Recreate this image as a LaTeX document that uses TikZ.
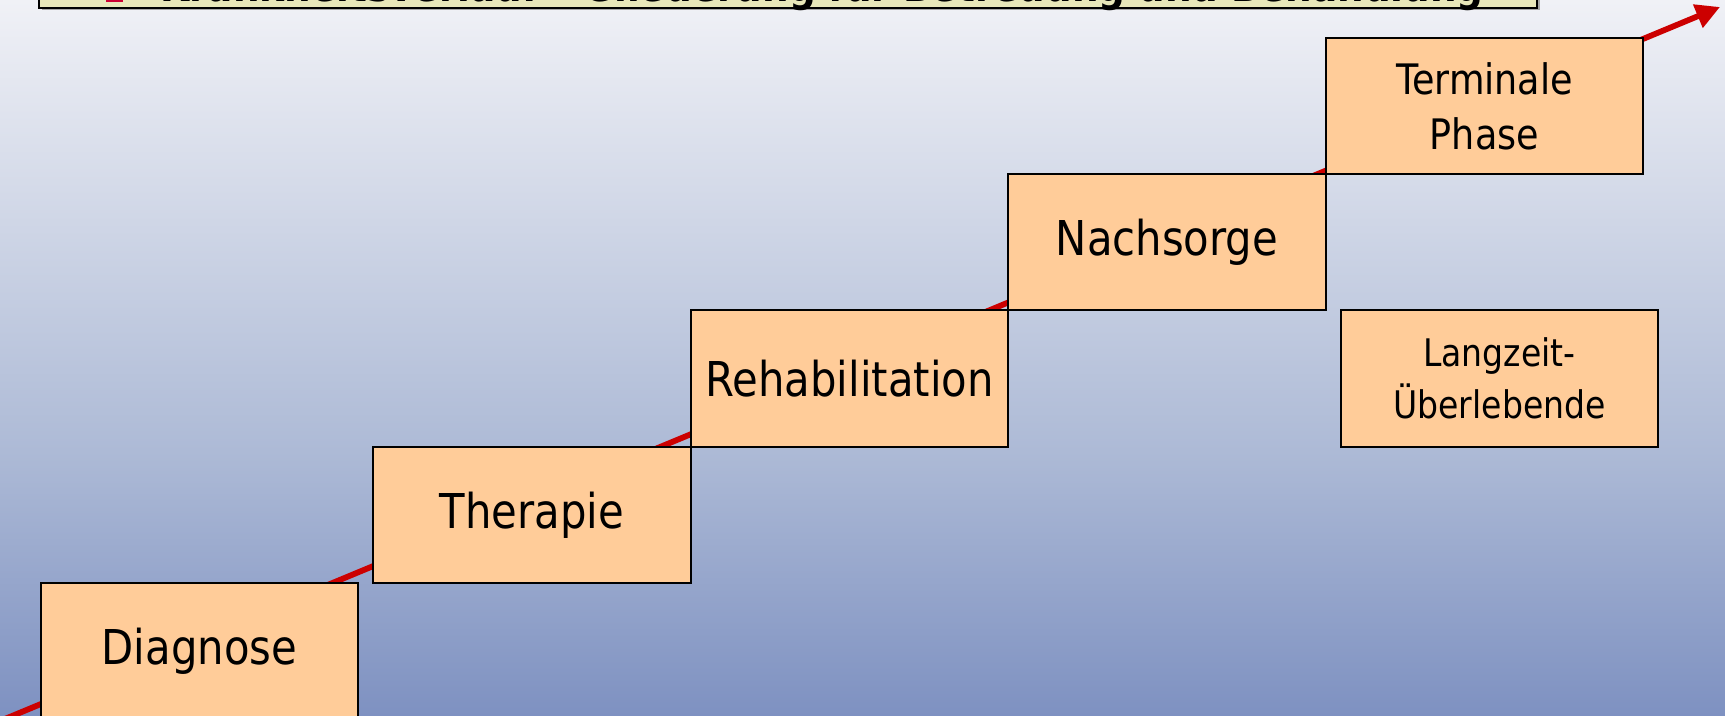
\documentclass[tikz,border=0pt]{standalone}
\usepackage{fontspec}
\setmainfont{DejaVu Sans}[FakeStretch=0.87]
\usetikzlibrary{arrows.meta}
\definecolor{bgtop}{RGB}{240,241,246}
\definecolor{bgmid}{RGB}{173,186,214}
\definecolor{bgbot}{RGB}{126,145,193}
\definecolor{peach}{RGB}{255,204,153}
\definecolor{arrowred}{RGB}{204,0,0}
\definecolor{titlefill}{RGB}{232,231,185}
\definecolor{bulletred}{RGB}{204,0,51}
\pgfdeclareverticalshading{bgshade}{100bp}{color(0bp)=(bgbot); color(25bp)=(bgbot); color(43.5bp)=(bgmid); color(75bp)=(bgtop); color(100bp)=(bgtop)}
\tikzset{
  phase/.style={draw=black, line width=1pt, fill=peach, minimum width=158.75pt, minimum height=68.25pt, inner sep=0pt, align=center, font=\fontsize{24}{29}\selectfont},
  smallphase/.style={phase, font=\fontsize{21}{27.5}\selectfont},
  tinyphase/.style={phase, font=\fontsize{19}{26}\selectfont},
  timeline/.style={draw=arrowred, line width=2.9pt, -{Triangle[length=12pt, width=12pt]}}
}
\begin{document}
\begin{tikzpicture}[x=0.5pt, y=-0.5pt]
\useasboundingbox (0,0) rectangle (1725,716);
\shade[shading=bgshade] (0,0) rectangle (1725,716);
% title box (mostly outside the page)
\fill[gray!70] (42,-60) rectangle (1540,10.5);
\draw[fill=titlefill, line width=0.9pt] (39,-60) rectangle (1537,8);
\fill[bulletred] (106,-14) rectangle (123,2);
\node[anchor=base west, inner sep=0pt, font=\fontsize{21.5}{26}\selectfont\bfseries] (title) at (160,1.5) {Krankheitsverlauf – Gliederung für Betreuung und Behandlung};
% timeline
\coordinate (start) at (0,721);
\coordinate (end) at (1720,7);
\draw[timeline] (start) -- (end);
% phases
\node[phase] (diag) at (199.5,651.5) {Diagnose};
\node[phase] (ther) at (532,515) {Therapie};
\node[phase] (reha) at (849.5,378.5) {Rehabilitation};
\node[phase] (nach) at (1167,242) {Nachsorge};
\node[smallphase] (term) at (1484.5,106) {Terminale\\Phase};
\node[tinyphase] (lang) at (1499.5,378.5) {Langzeit-\\Überlebende};
\end{tikzpicture}
\end{document}
